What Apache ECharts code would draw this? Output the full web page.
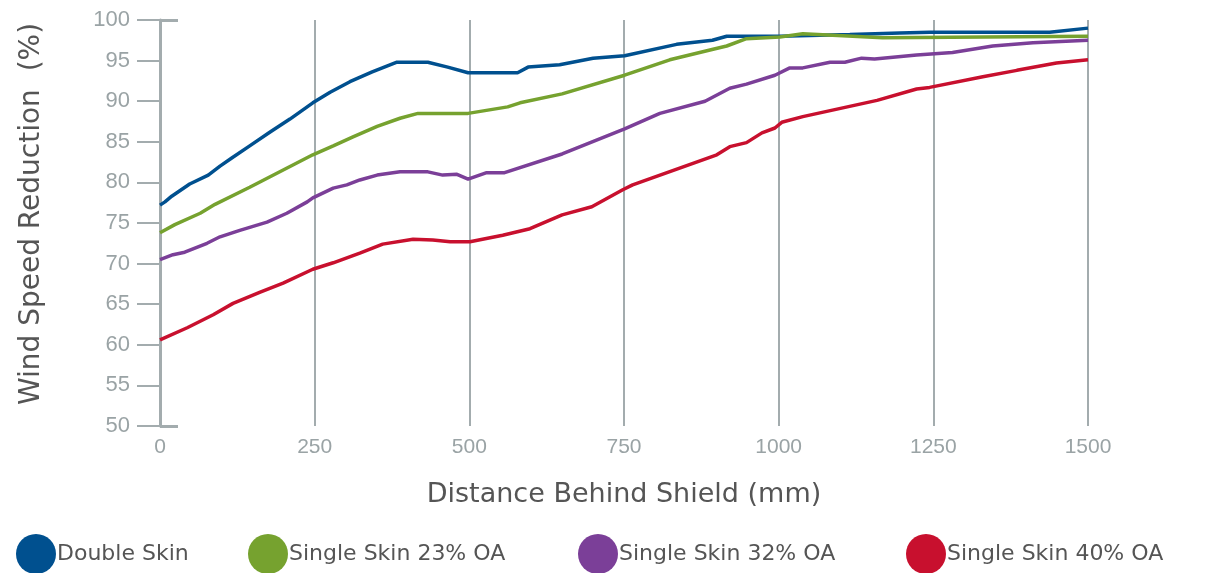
<!DOCTYPE html>
<html>
<head>
<meta charset="utf-8">
<script src="https://cdn.jsdelivr.net/npm/echarts@6/dist/echarts.min.js"></script>
<style>html,body{margin:0;padding:0;background:#fff;}#c{width:1205px;height:573px;}</style>
</head>
<body>
<div id="c"></div>
<script>
const seriesNames = ["Double Skin", "Single Skin 23% OA", "Single Skin 32% OA", "Single Skin 40% OA"];
const xTicks = [0, 250, 500, 750, 1000, 1250, 1500];

const doubleX = [0, 8, 19, 48, 78, 97, 116, 145, 178, 210, 247, 275, 307, 343, 383, 433, 465, 498, 578, 595, 646, 700, 751, 835, 893, 916, 1002, 1115, 1196, 1244, 1438, 1500];
const doubleY = [77.2, 77.6, 78.3, 79.8, 80.9, 82.0, 83.0, 84.5, 86.2, 87.8, 89.8, 91.1, 92.4, 93.6, 94.8, 94.8, 94.2, 93.5, 93.5, 94.2, 94.5, 95.3, 95.6, 97.0, 97.5, 98.0, 98.0, 98.2, 98.4, 98.5, 98.5, 99.0];

const ss23X = [0, 24, 65, 89, 145, 247, 280, 312, 351, 388, 417, 498, 562, 582, 650, 751, 824, 894, 916, 948, 1002, 1039, 1168, 1500];
const ss23Y = [73.8, 74.8, 76.2, 77.3, 79.4, 83.4, 84.5, 85.6, 86.9, 87.9, 88.5, 88.5, 89.3, 89.8, 90.9, 93.2, 95.1, 96.4, 96.8, 97.7, 97.9, 98.3, 97.8, 98.0];

const ss32X = [0, 21, 40, 76, 97, 129, 173, 205, 238, 247, 280, 302, 323, 351, 388, 433, 457, 480, 498, 528, 557, 650, 751, 808, 881, 921, 948, 994, 1018, 1039, 1083, 1107, 1134, 1155, 1223, 1281, 1346, 1411, 1500];
const ss32Y = [70.5, 71.1, 71.4, 72.5, 73.3, 74.1, 75.1, 76.2, 77.6, 78.1, 79.3, 79.7, 80.3, 80.9, 81.3, 81.3, 80.9, 81.0, 80.4, 81.2, 81.2, 83.5, 86.6, 88.5, 90.0, 91.6, 92.1, 93.2, 94.1, 94.1, 94.8, 94.8, 95.3, 95.2, 95.7, 96.0, 96.8, 97.2, 97.5];

const ss40X = [0, 44, 86, 118, 162, 199, 247, 280, 323, 360, 409, 441, 469, 501, 554, 598, 650, 698, 748, 764, 900, 921, 948, 973, 994, 1005, 1039, 1087, 1159, 1223, 1244, 1330, 1385, 1449, 1500];
const ss40Y = [60.6, 62.1, 63.7, 65.1, 66.5, 67.6, 69.3, 70.1, 71.3, 72.4, 73.0, 72.9, 72.7, 72.7, 73.5, 74.3, 76.0, 77.0, 79.1, 79.7, 83.4, 84.4, 84.9, 86.1, 86.7, 87.4, 88.1, 88.9, 90.1, 91.5, 91.7, 93.0, 93.8, 94.7, 95.1];

const colors = ["#00508f", "#76a22f", "#7b3f98", "#c8102e"];
const zip = (xs, ys) => xs.map((x, i) => [x, ys[i]]);
const allData = [zip(doubleX, doubleY), zip(ss23X, ss23Y), zip(ss32X, ss32Y), zip(ss40X, ss40Y)];

const gridColor = "#a3acae";
const legendLefts = [16, 248, 578, 906];

const chart = echarts.init(document.getElementById('c'), null, {renderer: 'canvas'});
chart.setOption({
  animation: false,
  backgroundColor: '#fff',
  color: colors,
  grid: {left: 160, right: 117, top: 20, bottom: 147, containLabel: false},
  legend: seriesNames.map((n, i) => ({
    data: [n],
    left: legendLefts[i],
    top: 534,
    padding: 0,
    icon: 'circle',
    itemWidth: 40,
    itemHeight: 40,
    itemGap: 2,
    textStyle: {fontFamily: 'DejaVu Sans', fontSize: 22, color: '#555', padding: [0, 0, 0, -4]}
  })),
  xAxis: {
    type: 'value', min: 0, max: 1500, interval: 250,
    axisLine: {show: false},
    axisTick: {show: false},
    splitLine: {show: true, lineStyle: {color: gridColor, width: 2}},
    axisLabel: {color: '#9aa3a5', fontSize: 21, fontFamily: 'Liberation Sans', margin: 11,
      formatter: v => xTicks.includes(v) ? String(v) : ''},
    name: 'Distance Behind Shield (mm)',
    nameLocation: 'middle', nameGap: 55,
    nameTextStyle: {color: '#555', fontSize: 27, fontFamily: 'DejaVu Sans'}
  },
  yAxis: [{
    type: 'value', min: 50, max: 100, interval: 5,
    axisLine: {show: true, lineStyle: {color: gridColor, width: 3}},
    axisTick: {show: true, length: 23, lineStyle: {color: gridColor, width: 2}},
    splitLine: {show: false},
    axisLabel: {color: '#9aa3a5', fontSize: 22, fontFamily: 'Liberation Sans', margin: 30},
    name: 'Wind Speed Reduction  (%)',
    nameLocation: 'middle', nameGap: 114, nameRotate: 90,
    nameTextStyle: {color: '#555', fontSize: 28, fontFamily: 'DejaVu Sans', padding: [0, 0, 0, 18]}
  }, {
    type: 'value', min: 50, max: 100, interval: 50, position: 'left',
    axisLine: {show: false},
    axisTick: {show: true, inside: true, length: 18, lineStyle: {color: gridColor, width: 3}},
    axisLabel: {show: false},
    splitLine: {show: false}
  }],
  series: seriesNames.map((n, i) => ({
    name: n, type: 'line', data: allData[i], yAxisIndex: 0,
    showSymbol: false, symbol: 'circle',
    lineStyle: {width: 3.5, color: colors[i]},
    itemStyle: {color: colors[i]}
  }))
});
</script>
</body>
</html>
